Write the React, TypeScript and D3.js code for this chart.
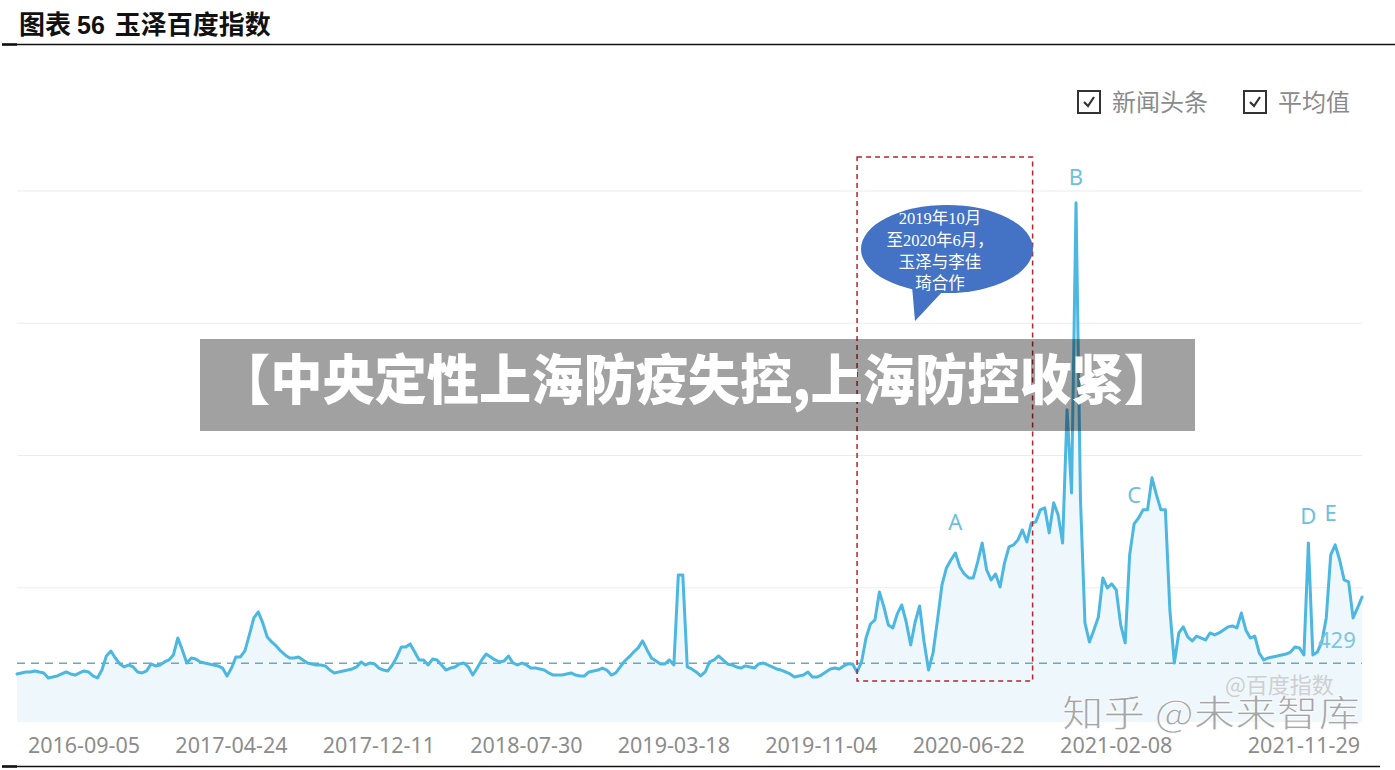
import React from 'react';
import * as d3 from 'd3';

// weekly Baidu index, starting 2016-05-23
const START_DATE = '2016-05-23';
const indexValues = [
  348, 356, 363, 363, 371, 363, 356, 318, 325, 333, 348, 363, 348, 340, 356, 371, 363, 333, 318, 378,
  484, 522, 469, 424, 401, 416, 401, 363, 356, 371, 424, 409, 416, 439, 454, 492, 620, 530, 431, 469,
  461, 439, 431, 424, 416, 409, 393, 333, 393, 477, 477, 522, 643, 772, 817, 734, 628, 590, 560, 522,
  492, 469, 469, 477, 454, 431, 424, 416, 416, 409, 378, 356, 363, 371, 378, 386, 401, 439, 416, 431,
  424, 393, 378, 371, 416, 477, 552, 552, 575, 514, 454, 454, 416, 461, 454, 416, 378, 393, 401, 424,
  431, 401, 340, 393, 454, 499, 477, 454, 439, 446, 484, 431, 416, 431, 416, 393, 393, 386, 378, 356,
  340, 340, 340, 348, 356, 340, 333, 333, 363, 371, 378, 393, 378, 340, 356, 401, 446, 477, 514, 545,
  598, 530, 469, 446, 424, 424, 454, 416, 1097, 1097, 401, 386, 363, 333, 363, 439, 454, 484, 454, 424,
  416, 401, 393, 409, 401, 393, 424, 431, 416, 401, 386, 378, 363, 348, 325, 333, 340, 363, 325, 325,
  340, 363, 386, 393, 386, 409, 424, 424, 363, 439, 620, 726, 757, 968, 855, 719, 696, 802, 870, 741,
  567, 741, 862, 590, 378, 507, 757, 1021, 1150, 1210, 1263, 1157, 1104, 1074, 1074, 1195, 1339, 1135, 1059, 1104,
  1006, 1188, 1309, 1324, 1362, 1437, 1347, 1490, 1498, 1589, 1604, 1415, 1642, 1551, 1339, 2345, 1717, 3911, 1664, 734,
  590, 681, 779, 1074, 999, 1029, 983, 719, 583, 1248, 1483, 1528, 1589, 1589, 1831, 1702, 1589, 1589, 832, 431,
  658, 704, 628, 598, 635, 620, 605, 658, 643, 658, 681, 704, 711, 696, 809, 681, 620, 635, 507, 454,
  469, 477, 484, 492, 499, 514, 552, 545, 492, 1339, 492, 514, 590, 772, 1248, 1324, 1210, 1059, 1044, 772,
  847, 930,
];
const averageValue = 429;
const gridValues = [1000, 2000, 3000, 4000];
const tickLabels = [
  '2016-09-05', '2017-04-24', '2017-12-11', '2018-07-30', '2019-03-18',
  '2019-11-04', '2020-06-22', '2021-02-08', '2021-11-29',
];
const legendItems = ['新闻头条', '平均值'];
const peakLabels = [
  { label: 'A', date: '2020-06-01', value: 1437 },
  { label: 'B', date: '2020-12-07', value: 4045 },
  { label: 'C', date: '2021-03-08', value: 1641 },
  { label: 'D', date: '2021-12-06', value: 1482 },
  { label: 'E', date: '2022-01-10', value: 1505 },
];
const windowDates = ['2019-12-30', '2020-09-30'];
const noteLines = ['2019年10月', '至2020年6月，', '玉泽与李佳', '琦合作'];
const bannerText = '【中央定性上海防疫失控,上海防控收紧】';
const titleParts = ['图表', '56', '玉泽百度指数'];

const parse = d3.timeParse('%Y-%m-%d');

export default function App() {
  const W = 1395;
  const H = 770;
  const left = 17;
  const right = 1362;

  const start = parse(START_DATE) as Date;
  const data = indexValues.map((v, i) => ({ date: d3.timeWeek.offset(start, i), value: v }));

  const x = d3.scaleTime()
    .domain([start, data[data.length - 1].date])
    .range([left, right]);
  const y = d3.scaleLinear().domain([0, 4000]).range([720, 191]);

  const line = d3.line<{ date: Date; value: number }>()
    .x(d => x(d.date))
    .y(d => y(d.value));
  const area = d3.area<{ date: Date; value: number }>()
    .x(d => x(d.date))
    .y0(y(0) + 2)
    .y1(d => y(d.value));

  const boxStart = x(parse(windowDates[0]) as Date);
  const boxEnd = x(parse(windowDates[1]) as Date);

  const sans = "'Noto Sans', 'Noto Sans CJK SC', sans-serif";
  const cjk = "'Noto Sans CJK SC', sans-serif";
  const serif = "'Liberation Serif', 'Noto Sans CJK SC', serif";

  return (
    <svg width={W} height={H} style={{ position: 'absolute', left: 0, top: 0, background: '#fff' }}>
      {/* title */}
      <text x={19} y={34} fontFamily={cjk} fontWeight={700} fontSize={26} fill="#111">
        <tspan>{titleParts[0]}</tspan>
        <tspan dx={6} fontFamily="'Liberation Sans', Arial, sans-serif" fontSize={25}>{titleParts[1]}</tspan>
        <tspan dx={10}>{titleParts[2]}</tspan>
      </text>
      <line x1={2} x2={W} y1={44.5} y2={44.5} stroke="#111" strokeWidth={1.3} />
      <line x1={2} x2={17} y1={44.5} y2={44.5} stroke="#111" strokeWidth={2.5} />

      {/* legend */}
      {legendItems.map((t, i) => {
        const lx = i === 0 ? 1078 : 1244;
        return (
          <g key={t}>
            <rect x={lx} y={91} width={22} height={22} fill="#fff" stroke="#333" strokeWidth={2} />
            <path d={`M${lx + 6},${102} L${lx + 10},${106} L${lx + 16},${97}`} fill="none" stroke="#333" strokeWidth={2.2} />
            <text x={lx + 34} y={111} fontFamily={cjk} fontSize={24} fill="#8a8a8a">{t}</text>
          </g>
        );
      })}

      {/* grid */}
      {gridValues.map(g => (
        <line key={g} x1={left} x2={right} y1={y(g)} y2={y(g)} stroke="#ececec" strokeWidth={1.2} />
      ))}

      {/* series */}
      <path d={area(data) || ''} fill="#eef7fb" />
      <line x1={left} x2={right} y1={y(averageValue)} y2={y(averageValue)}
        stroke="#6fa7b8" strokeWidth={1.4} strokeDasharray="8,6" />
      <path d={line(data) || ''} fill="none" stroke="#4cb7e1" strokeWidth={3}
        strokeLinejoin="round" strokeLinecap="round" />

      {/* x labels */}
      {tickLabels.map(t => (
        <text key={t} x={x(parse(t) as Date)} y={753} textAnchor="middle"
          fontFamily={sans} fontSize={21.5} fill="#8c8c8c">{t}</text>
      ))}

      {/* peak letters */}
      {peakLabels.map(p => (
        <text key={p.label} x={x(parse(p.date) as Date)} y={y(p.value)} textAnchor="middle"
          fontFamily={sans} fontSize={22} fill="#6cbfe0">{p.label}</text>
      ))}
      <text x={1318} y={648} fontFamily={sans} fontSize={22} fill="#7cc5e2">{averageValue}</text>

      {/* cooperation window */}
      <rect x={boxStart} y={157} width={boxEnd - boxStart} height={524} fill="none"
        stroke="#b8232d" strokeWidth={1.5} strokeDasharray="5,4" />
      <path d="M912,286 L915,321 L944,290 Z" fill="#4472c4" />
      <ellipse cx={947} cy={249} rx={86} ry={44} fill="#4472c4" />
      {noteLines.map((t, i) => (
        <text key={t} x={940} y={224 + i * 21.8} textAnchor="middle" fontFamily={serif}
          fontSize={16.5} fill="#fff">{t}</text>
      ))}

      {/* watermarks */}
      <text x={1225} y={693} fontFamily={cjk} fontSize={22} fill="#cfcfcf">@百度指数</text>
      <text x={1062} y={727} fontFamily={cjk} fontSize={37} fill="#8f8f8f" fillOpacity={0.8}
        stroke="#fff" strokeWidth={0.8} textLength={298} lengthAdjust="spacingAndGlyphs">知乎 @未来智库</text>

      {/* overlay banner */}
      <rect x={200} y={339} width={995} height={92} fill="rgba(0,0,0,0.37)" />
      <text x={697} y={400} textAnchor="middle" fontFamily={cjk} fontWeight={900} fontSize={54}
        fill="#fff" textLength={958} lengthAdjust="spacingAndGlyphs">{bannerText}</text>

      {/* bottom rule */}
      <line x1={2} x2={1380} y1={766.5} y2={766.5} stroke="#111" strokeWidth={1.3} />
      <line x1={2} x2={17} y1={766.5} y2={766.5} stroke="#111" strokeWidth={2.5} />
    </svg>
  );
}
